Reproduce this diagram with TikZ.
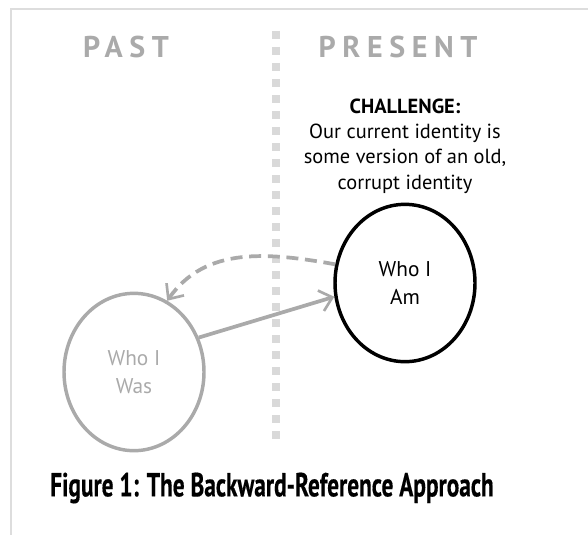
\documentclass[tikz,border=0pt]{standalone}
\usepackage{fontspec}
\setmainfont{PT Sans}
\newfontfamily\capfont[FakeStretch=0.70,FakeBold=0.4]{PT Sans}
\usetikzlibrary{shapes.geometric,arrows.meta}
\definecolor{framegray}{HTML}{DDDDDD}
\definecolor{dotgray}{HTML}{D9D9D9}
\definecolor{pastgray}{HTML}{AAAAAA}
\tikzset{
  headline/.style={text=pastgray,font=\fontsize{22.5}{26}\selectfont\bfseries\addfontfeature{LetterSpace=22}},
  idcircle/.style={ellipse,line width=2.6pt,minimum width=105pt,minimum height=118pt,inner sep=0pt,align=center,font=\fontsize{16}{21}\selectfont},
  link/.style={pastgray,line width=2.8pt,-{Straight Barb[length=9pt,width=16pt,line width=2pt]}}
}
\begin{document}
\begin{tikzpicture}[x=0.75pt,y=-0.75pt]
\useasboundingbox (0,0) rectangle (588,535);
% frame
\draw[framegray,line width=1.5pt] (10,9) -- (588,9);
\draw[framegray,line width=1.5pt] (11,9) -- (11,535);
% divider
\draw[dotgray,line width=6pt,dash pattern=on 6pt off 6pt] (276,31) -- (276,441);
% headings
\node[headline] (past) at (126,47) {PAST};
\node[headline] (present) at (398,47) {PRESENT};
\node[align=center,font=\fontsize{15.3}{19}\selectfont] (challenge) at (405,146) {\textbf{CHALLENGE:}\\Our current identity is\\some version of an old,\\corrupt identity};
% identities
\node[idcircle,draw=black] (am) at (405,283) {Who I\\Am};
\node[idcircle,draw=pastgray,text=pastgray] (was) at (134,372) {Who I\\Was};
% arrows
\draw[link] (was.28) -- (am.191);
\draw[link,dash pattern=on 9pt off 5pt] (am.165) to[out=170,in=55] (was.65);
% caption
\node[font=\fontsize{25}{29}\selectfont\capfont\bfseries] (caption) at (272,488) {Figure 1: The Backward-Reference Approach};
\end{tikzpicture}
\end{document}
